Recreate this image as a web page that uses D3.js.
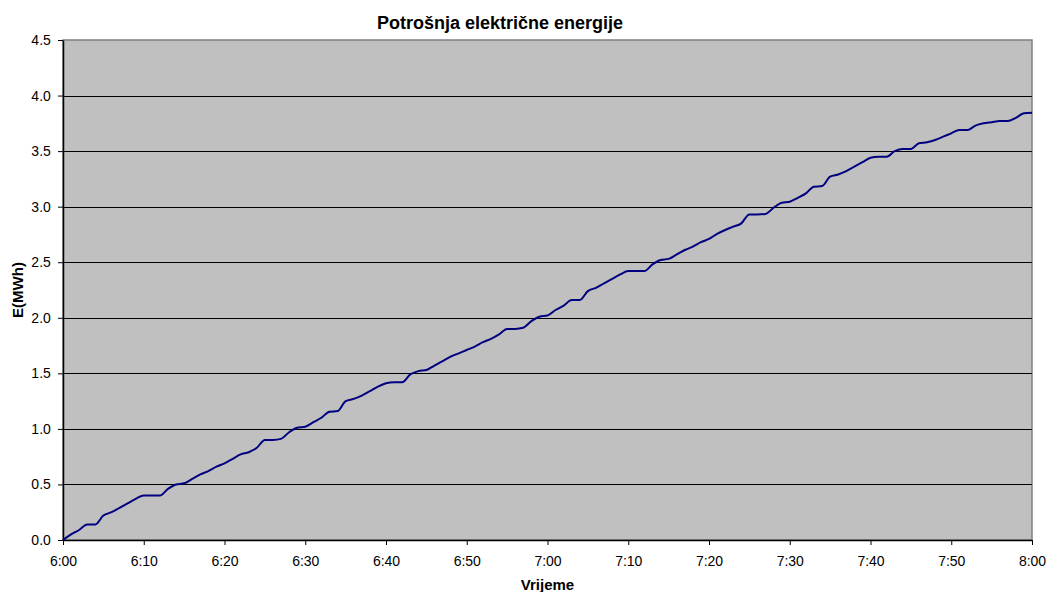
<!DOCTYPE html>
<html>
<head>
<meta charset="utf-8">
<script src="https://cdn.jsdelivr.net/npm/d3@7"></script>
<style>
  body { margin: 0; background: #fff; }
  #chart { width: 1048px; height: 592px; }
  text { font-family: "Liberation Sans", Arial, sans-serif; }
</style>
</head>
<body>
<div id="chart"></div>
<script>
// minutes after 6:00, one reading per minute
var minutes = d3.range(0, 121);
var energy = [
  0.00, 0.05, 0.09, 0.14, 0.14, 0.22, 0.25, 0.29, 0.33, 0.37,
  0.40, 0.40, 0.40, 0.46, 0.50, 0.51, 0.55, 0.59, 0.62, 0.66,
  0.69, 0.73, 0.77, 0.79, 0.83, 0.90, 0.90, 0.91, 0.97, 1.01,
  1.02, 1.06, 1.10, 1.155, 1.16, 1.25, 1.27, 1.30, 1.34, 1.38,
  1.41, 1.42, 1.42, 1.49, 1.52, 1.53, 1.57, 1.61, 1.65, 1.68,
  1.71, 1.74, 1.78, 1.81, 1.85, 1.90, 1.90, 1.91, 1.97, 2.01,
  2.02, 2.07, 2.11, 2.16, 2.16, 2.24, 2.27, 2.31, 2.35, 2.39,
  2.42, 2.42, 2.42, 2.48, 2.52, 2.53, 2.57, 2.61, 2.64, 2.68,
  2.71, 2.755, 2.79, 2.82, 2.85, 2.93, 2.93, 2.935, 2.99, 3.035,
  3.045, 3.08, 3.12, 3.18, 3.185, 3.27, 3.29, 3.32, 3.36, 3.40,
  3.44, 3.45, 3.45, 3.50, 3.52, 3.52, 3.57, 3.58, 3.60, 3.63,
  3.66, 3.69, 3.69, 3.73, 3.75, 3.76, 3.77, 3.77, 3.80, 3.84,
  3.845
];
var xTicks = [0, 10, 20, 30, 40, 50, 60, 70, 80, 90, 100, 110, 120];
var xTickLabels = ["6:00", "6:10", "6:20", "6:30", "6:40", "6:50", "7:00",
                   "7:10", "7:20", "7:30", "7:40", "7:50", "8:00"];
var yTicks = [0, 0.5, 1, 1.5, 2, 2.5, 3, 3.5, 4, 4.5];

var svgWidth = 1048;
var svgHeight = 592;
var margin = { top: 40, right: 16, bottom: 52, left: 63 };
var width = svgWidth - margin.left - margin.right;
var height = svgHeight - margin.top - margin.bottom;

var data = minutes.map(function(m, i) { return { m: m, e: energy[i] }; });

var svg = d3.select("#chart")
  .append("svg")
  .attr("width", svgWidth)
  .attr("height", svgHeight);

var chartGroup = svg.append("g")
  .attr("transform", `translate(${margin.left}, ${margin.top})`);

var xScale = d3.scaleLinear().domain([0, 120]).range([0, width]);
var yScale = d3.scaleLinear().domain([0, 4.5]).range([height, 0]);

// plot background
chartGroup.append("rect")
  .attr("width", width)
  .attr("height", height)
  .attr("fill", "#c0c0c0")
  .attr("stroke", "#808080")
  .attr("stroke-width", 1.5);

// gridlines
chartGroup.selectAll(".grid")
  .data(yTicks.filter(function(d) { return d > 0 && d < 4.5; }))
  .enter()
  .append("line")
  .attr("x1", 0)
  .attr("x2", width)
  .attr("y1", function(d) { return Math.round(yScale(d)) + 0.5; })
  .attr("y2", function(d) { return Math.round(yScale(d)) + 0.5; })
  .attr("stroke", "#000")
  .attr("stroke-width", 1);

// axes
var bottomAxis = d3.axisBottom(xScale)
  .tickValues(xTicks)
  .tickSize(5)
  .tickSizeOuter(0)
  .tickFormat(function(d, i) { return xTickLabels[i]; });
var leftAxis = d3.axisLeft(yScale)
  .tickValues(yTicks)
  .tickSize(5)
  .tickSizeOuter(0)
  .tickFormat(d3.format(".1f"));

var xAxisG = chartGroup.append("g")
  .attr("transform", `translate(0, ${height})`)
  .call(bottomAxis);
var yAxisG = chartGroup.append("g")
  .call(leftAxis);

[xAxisG, yAxisG].forEach(function(g) {
  g.selectAll("text")
    .attr("font-size", "14px")
    .attr("font-family", "Liberation Sans, Arial, sans-serif")
    .attr("fill", "#000");
  g.select(".domain").attr("stroke", "#000").attr("stroke-width", 1.5);
  g.selectAll(".tick line").attr("stroke", "#000");
});
xAxisG.selectAll("text").attr("dy", "1.3em");
yAxisG.selectAll("text").attr("dx", "-0.3em");

// energy line
var line = d3.line()
  .x(function(d) { return xScale(d.m); })
  .y(function(d) { return yScale(d.e); })
  .curve(d3.curveMonotoneX);

chartGroup.append("path")
  .datum(data)
  .attr("d", line)
  .attr("fill", "none")
  .attr("stroke", "#000080")
  .attr("stroke-width", 2);

// title and axis labels
svg.append("text")
  .attr("x", 500)
  .attr("y", 29)
  .attr("text-anchor", "middle")
  .attr("font-size", "18px")
  .attr("font-weight", "bold")
  .text("Potrošnja električne energije");

svg.append("text")
  .attr("x", margin.left + width / 2)
  .attr("y", 590)
  .attr("text-anchor", "middle")
  .attr("font-size", "15px")
  .attr("font-weight", "bold")
  .text("Vrijeme");

svg.append("text")
  .attr("transform", `translate(23, ${margin.top + height / 2}) rotate(-90)`)
  .attr("text-anchor", "middle")
  .attr("font-size", "15px")
  .attr("font-weight", "bold")
  .text("E(MWh)");
</script>
</body>
</html>
